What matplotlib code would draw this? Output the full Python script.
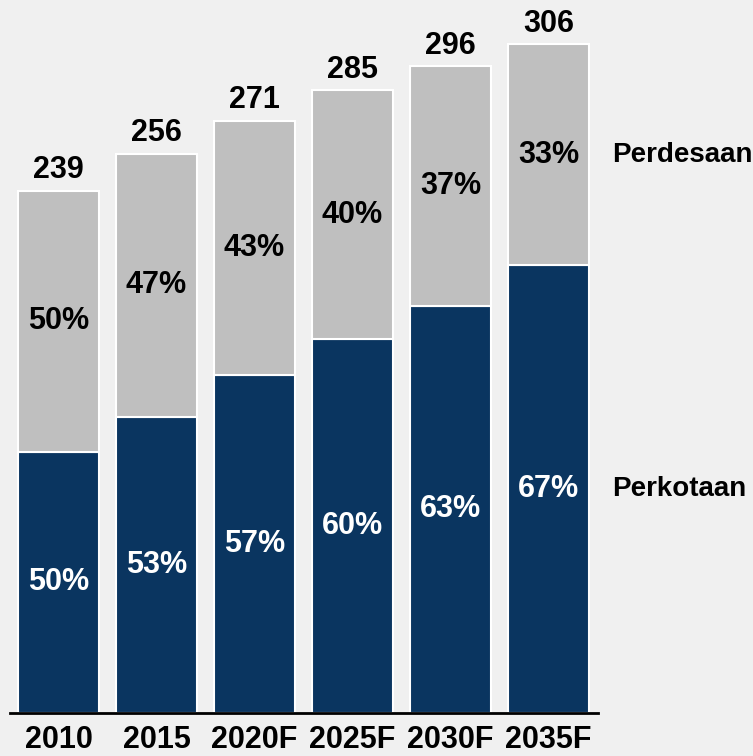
import matplotlib
matplotlib.use('Agg')
import matplotlib.pyplot as plt
import numpy as np

# data
years = ['2010', '2015', '2020F', '2025F', '2030F', '2035F']
totals = [239, 256, 271, 285, 296, 306]
urban_pct = [50, 53, 57, 60, 63, 67]
rural_pct = [50, 47, 43, 40, 37, 33]
series_names = ['Perkotaan', 'Perdesaan']

navy = '#0a3560'
grey = '#bfbfbf'
bg = '#f0f0f0'

plt.rcParams['font.family'] = ['Liberation Sans', 'DejaVu Sans']
plt.rcParams['font.weight'] = 'bold'

urban = np.array(totals) * np.array(urban_pct) / 100
rural = np.array(totals) - urban
x = np.arange(len(years))

fig = plt.figure(figsize=(7.53, 7.56), dpi=100, facecolor=bg)
ax = fig.add_axes([10 / 753, 43 / 756, 588 / 753, 699.2 / 756])
ax.set_facecolor(bg)

ax.bar(x, urban, width=0.83, color=navy, edgecolor='white', linewidth=1.5)
ax.bar(x, rural, bottom=urban, width=0.83, color=grey, edgecolor='white', linewidth=1.5)

for i in range(len(years)):
    ax.text(x[i], urban[i] / 2, f'{urban_pct[i]}%', ha='center', va='center',
            color='white', fontsize=22, fontweight='bold')
    ax.text(x[i], urban[i] + rural[i] / 2, f'{rural_pct[i]}%', ha='center', va='center',
            color='black', fontsize=22, fontweight='bold')
    ax.annotate(str(totals[i]), (x[i], totals[i]), xytext=(0, 9), textcoords='offset points',
                ha='center', va='baseline', fontsize=22, fontweight='bold')

# series labels next to the last bar
last = len(years) - 1
ax.text(last + 0.648, urban[last] + rural[last] / 2, series_names[1], ha='left', va='center',
        fontsize=20, fontweight='bold', clip_on=False)
ax.text(last + 0.648, urban[last] / 2, series_names[0], ha='left', va='center',
        fontsize=20, fontweight='bold', clip_on=False)

ax.set_xlim(-0.495, 5.505)
ax.set_ylim(0, 320)
ax.set_xticks(x)
ax.set_xticklabels(years, fontsize=22, fontweight='bold')
ax.tick_params(axis='x', length=0, pad=9)
ax.set_yticks([])
for s in ['top', 'right', 'left']:
    ax.spines[s].set_visible(False)
ax.spines['bottom'].set_linewidth(2)
ax.spines['bottom'].set_color('black')

fig.savefig('out.png', dpi=100, facecolor=bg)
